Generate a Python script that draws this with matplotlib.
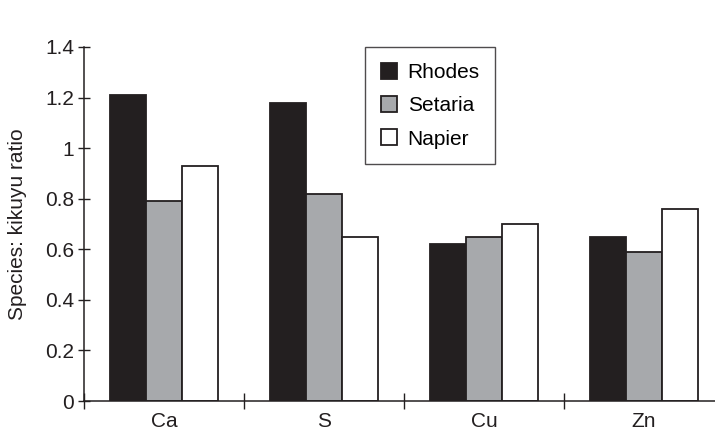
import numpy as np
import matplotlib.pyplot as plt
from matplotlib.ticker import FixedLocator, FuncFormatter

plt.rcParams['font.family'] = ['Liberation Sans', 'DejaVu Sans']

categories = ['Ca', 'S', 'Cu', 'Zn']
series = ['Rhodes', 'Setaria', 'Napier']
rhodes = [1.21, 1.18, 0.62, 0.65]
setaria = [0.79, 0.82, 0.65, 0.59]
napier = [0.93, 0.65, 0.70, 0.76]
colors = ['#231f20', '#a7a9ac', '#ffffff']
ink = '#231f20'

fig = plt.figure(figsize=(7.15, 4.36), dpi=100)
ax = fig.add_axes([84 / 715, 1 - 401 / 436, 640 / 715, 354 / 436])

x = np.arange(len(categories))
w = 0.225
for i, (vals, name) in enumerate(zip([rhodes, setaria, napier], series)):
    ax.bar(x + (i - 1) * w, vals, width=w, color=colors[i], edgecolor=ink,
           linewidth=1.3, label=name, zorder=2)

ax.set_xlim(-0.5, len(categories) - 0.5)
ax.set_ylim(0, 1.4)
ax.set_yticks(np.arange(0, 1.41, 0.2))
ax.yaxis.set_major_formatter(FuncFormatter(lambda v, p: '{:g}'.format(round(v, 1))))
ax.xaxis.set_major_locator(FixedLocator(np.arange(-0.5, len(categories), 1.0)))
ax.xaxis.set_major_formatter(FuncFormatter(lambda v, p: ''))
ax.xaxis.set_minor_locator(FixedLocator(x))
ax.set_xticklabels(categories, minor=True)
ax.tick_params(axis='x', which='minor', length=0, pad=8, labelsize=15, labelcolor=ink)
ax.tick_params(axis='x', which='major', direction='inout', length=11.5, width=1, color=ink)
ax.tick_params(axis='y', direction='inout', length=8, width=1, color=ink,
               labelsize=15, labelcolor=ink, pad=3)

for s in ['top', 'right']:
    ax.spines[s].set_visible(False)
for s in ['left', 'bottom']:
    ax.spines[s].set_color(ink)
    ax.spines[s].set_linewidth(1.1)

ax.set_ylabel('Species: kikuyu ratio', fontsize=15, color=ink)
ax.yaxis.set_label_coords(-0.089, 0.5)

leg = ax.legend(loc='upper left', bbox_to_anchor=(365 / 715, 1 - 47 / 436),
                bbox_transform=fig.transFigure, fontsize=15, frameon=True, fancybox=False,
                handlelength=0.8, handleheight=0.8, handletextpad=0.5, labelspacing=0.68,
                borderpad=0.75, borderaxespad=0)
leg.get_frame().set_edgecolor(ink)
leg.get_frame().set_linewidth(1.0)

fig.savefig('out.png', dpi=100)
